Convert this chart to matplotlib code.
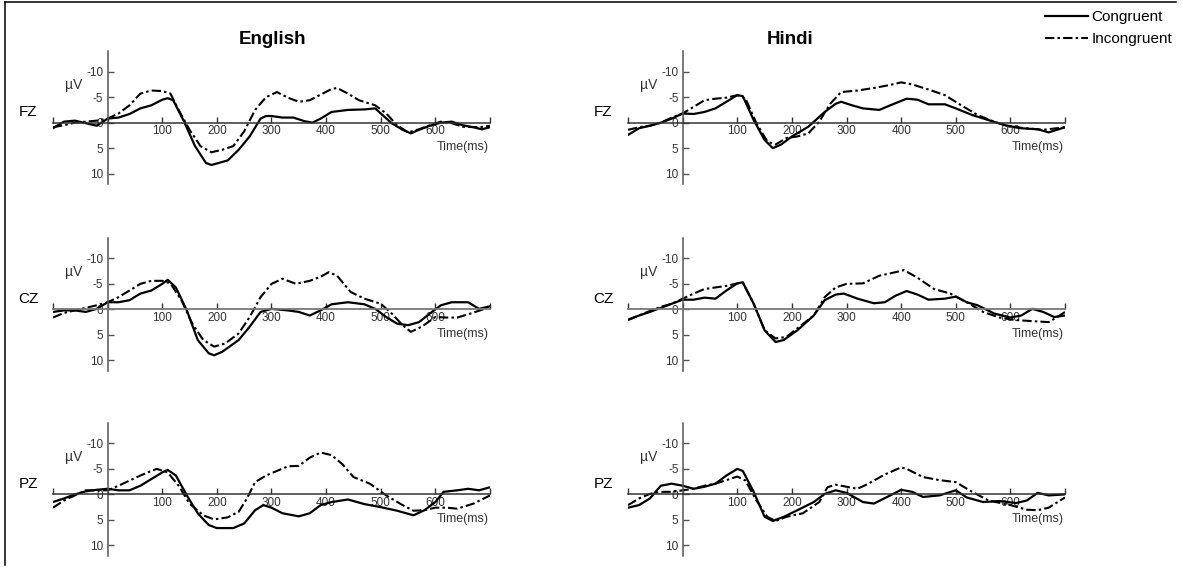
import matplotlib
matplotlib.use("Agg")
import matplotlib.pyplot as plt
from matplotlib.lines import Line2D

plt.rcParams['font.family'] = ['Liberation Sans', 'DejaVu Sans']

# ---- data (µV; negative is plotted upward) ----
eng_fz_t_con = [-100, -80, -60, -40, -20, 0, 20, 40, 60, 80, 100, 110, 120, 140, 160, 180, 190, 200, 220, 240,
                260, 280, 290, 300, 320, 340, 360, 375, 390, 410, 440, 470, 490, 500, 520, 540, 555, 570, 590,
                610, 630, 650, 670, 685, 700]
eng_fz_con = [1.1, -0.2, -0.4, 0.1, 0.6, -0.8, -1.0, -1.7, -2.8, -3.4, -4.5, -4.8, -4.4, -0.2, 4.6, 7.9, 8.3,
              8.0, 7.4, 5.3, 2.7, -0.8, -1.3, -1.3, -1.0, -1.0, -0.3, 0.0, -0.8, -2.1, -2.5, -2.6, -2.8, -1.8,
              0.1, 1.4, 2.1, 1.4, 0.6, 0.0, -0.2, 0.5, 0.9, 1.3, 0.9]
eng_fz_t_inc = [-100, -80, -60, -40, -20, 0, 20, 40, 60, 80, 100, 115, 130, 150, 170, 190, 210, 230, 250, 270,
                290, 310, 330, 350, 370, 390, 410, 420, 440, 460, 490, 510, 530, 550, 570, 590, 610, 630, 650,
                680, 700]
eng_fz_inc = [0.9, 0.5, 0.0, -0.2, -0.4, -0.8, -1.8, -3.4, -5.7, -6.3, -6.2, -5.7, -2.5, 1.4, 4.6, 5.8, 5.3,
              4.6, 1.7, -2.5, -5.0, -6.0, -4.9, -4.1, -4.4, -5.5, -6.6, -6.8, -5.7, -4.4, -3.4, -1.8, 0.5, 1.9,
              1.3, 0.5, -0.2, 0.1, 0.8, 0.9, 0.6]

hin_fz_t_con = [-100, -80, -60, -40, -20, 0, 20, 40, 60, 80, 100, 110, 130, 150, 165, 180, 200, 230, 260, 280,
                290, 310, 330, 360, 380, 410, 430, 450, 480, 500, 530, 560, 590, 620, 650, 670, 700]
hin_fz_con = [2.4, 1.1, 0.6, 0.0, -0.8, -1.8, -1.7, -2.1, -2.8, -4.1, -5.4, -5.2, -0.5, 3.4, 5.0, 4.3, 2.7,
              0.8, -2.1, -3.7, -4.1, -3.4, -2.8, -2.5, -3.4, -4.7, -4.5, -3.6, -3.6, -2.8, -1.5, -0.5, 0.5,
              1.1, 1.3, 1.9, 0.9]
hin_fz_t_inc = [-100, -80, -60, -40, -20, 0, 20, 40, 60, 80, 100, 115, 135, 155, 170, 190, 210, 230, 250, 270,
                290, 320, 350, 380, 400, 420, 450, 480, 510, 540, 570, 600, 630, 660, 700]
hin_fz_inc = [1.4, 0.9, 0.6, 0.0, -1.0, -1.8, -3.1, -4.4, -4.7, -4.9, -5.4, -4.7, 0.1, 3.7, 4.3, 3.0, 2.7,
              2.1, -0.2, -3.7, -6.0, -6.3, -6.8, -7.4, -7.9, -7.5, -6.5, -5.4, -3.4, -1.5, -0.2, 0.8, 1.1,
              1.4, 0.9]

eng_cz_t_con = [-100, -80, -60, -40, -20, 0, 20, 40, 60, 80, 100, 110, 125, 145, 165, 185, 195, 210, 240, 260,
                280, 300, 330, 350, 370, 390, 410, 440, 470, 490, 510, 530, 550, 570, 590, 610, 630, 660, 680, 700]
eng_cz_con = [0.5, 0.2, 0.2, 0.5, -0.1, -1.4, -1.4, -1.8, -3.1, -3.7, -5.0, -5.8, -4.3, 0.2, 6.0, 8.6, 9.0,
              8.3, 6.0, 3.4, 0.5, -0.1, 0.2, 0.5, 1.2, 0.2, -1.0, -1.4, -1.0, -0.1, 1.5, 2.8, 3.1, 2.5, 0.8,
              -0.8, -1.4, -1.4, -0.1, -0.6]
eng_cz_t_inc = [-100, -80, -60, -40, -20, 0, 20, 40, 60, 80, 100, 115, 135, 155, 175, 195, 215, 240, 260, 280,
                300, 320, 345, 370, 390, 405, 420, 445, 470, 500, 520, 540, 555, 575, 600, 620, 640, 665, 690, 700]
eng_cz_inc = [1.6, 0.7, 0.2, -0.3, -0.8, -1.4, -2.4, -3.7, -5.0, -5.6, -5.6, -5.1, -1.8, 2.8, 6.0, 7.3, 6.7,
              4.7, 1.5, -2.4, -5.0, -6.0, -5.0, -5.6, -6.4, -7.3, -6.6, -3.4, -2.1, -1.1, 0.8, 3.1, 4.4, 3.4,
              1.5, 1.6, 1.6, 0.8, -0.1, -0.8]

hin_cz_t_con = [-100, -80, -60, -40, -20, 0, 20, 40, 60, 80, 100, 110, 130, 150, 170, 185, 210, 240, 260, 280,
                295, 320, 350, 370, 390, 410, 430, 450, 480, 500, 520, 540, 570, 600, 620, 640, 660, 680, 700]
hin_cz_con = [2.0, 1.2, 0.5, -0.3, -1.1, -1.9, -1.9, -2.3, -2.1, -3.7, -5.1, -5.3, -1.1, 4.1, 6.4, 6.0, 4.1,
              1.2, -1.8, -2.9, -3.1, -2.1, -1.2, -1.4, -2.7, -3.6, -2.9, -1.9, -2.1, -2.5, -1.4, -0.8, 0.8,
              1.6, 1.2, -0.1, 0.5, 1.5, 1.2]
hin_cz_t_inc = [-100, -80, -60, -40, -20, 0, 20, 40, 60, 80, 100, 110, 130, 150, 170, 190, 210, 240, 260, 280,
                300, 330, 360, 390, 405, 430, 460, 490, 520, 550, 580, 610, 640, 670, 690, 700]
hin_cz_inc = [2.1, 1.2, 0.3, -0.5, -1.1, -2.1, -3.1, -4.0, -4.3, -4.6, -5.1, -5.3, -1.1, 4.1, 5.7, 5.4, 3.7,
              1.2, -2.4, -4.3, -5.0, -5.1, -6.6, -7.3, -7.7, -6.2, -4.0, -3.1, -1.4, 0.5, 1.6, 2.1, 2.3, 2.5,
              1.2, 0.5]

eng_pz_t_con = [-100, -80, -60, -40, -20, 0, 20, 40, 60, 80, 100, 110, 125, 145, 165, 185, 200, 230, 250, 270,
                285, 300, 320, 350, 370, 390, 410, 440, 470, 500, 530, 560, 580, 600, 615, 640, 660, 680, 700]
eng_pz_con = [1.5, 0.8, 0.0, -0.6, -0.9, -1.1, -0.8, -0.8, -1.7, -3.0, -4.3, -4.8, -3.7, 0.2, 3.7, 6.0, 6.6,
              6.6, 5.7, 3.1, 2.1, 2.6, 3.7, 4.3, 3.7, 2.1, 1.5, 1.0, 1.9, 2.5, 3.2, 4.1, 3.1, 1.5, -0.5, -0.8,
              -1.1, -0.8, -1.4]
eng_pz_t_inc = [-100, -80, -60, -40, -20, 0, 20, 40, 60, 80, 90, 110, 130, 150, 175, 195, 220, 240, 255, 270,
                290, 310, 330, 350, 370, 390, 410, 430, 450, 480, 510, 540, 560, 580, 600, 620, 640, 670, 700]
eng_pz_inc = [2.6, 1.2, 0.2, -0.8, -0.8, -0.8, -1.7, -2.7, -3.7, -4.6, -5.0, -4.3, -1.7, 1.8, 4.1, 4.9, 4.5,
              3.4, 0.8, -2.4, -3.7, -4.6, -5.5, -5.6, -7.2, -8.2, -7.7, -5.9, -3.4, -2.1, 0.2, 2.1, 3.2, 3.1,
              2.6, 2.6, 2.8, 1.8, 0.2]

hin_pz_t_con = [-100, -80, -60, -40, -20, 0, 20, 40, 60, 80, 100, 110, 130, 150, 165, 185, 210, 240, 260, 280,
                300, 330, 350, 380, 400, 420, 440, 470, 500, 520, 550, 580, 610, 630, 650, 670, 700]
hin_pz_con = [2.6, 2.1, 0.8, -1.7, -2.1, -1.7, -1.1, -1.5, -2.1, -3.7, -5.0, -4.6, -0.5, 4.4, 5.2, 4.4, 3.1,
              1.5, -0.1, -0.8, -0.3, 1.5, 1.8, 0.2, -0.9, -0.5, 0.5, 0.2, -0.8, 0.6, 1.5, 1.3, 1.7, 1.2, -0.3,
              0.2, 0.0]
hin_pz_t_inc = [-100, -80, -60, -40, -20, 0, 20, 40, 60, 80, 100, 115, 135, 155, 170, 190, 220, 250, 265, 280,
                300, 320, 340, 370, 400, 410, 440, 470, 500, 530, 560, 600, 630, 650, 670, 700]
hin_pz_inc = [2.1, 0.8, -0.1, -0.5, -0.5, -0.8, -1.1, -1.7, -2.1, -2.8, -3.5, -2.7, 1.2, 4.4, 5.2, 4.4, 3.7,
              1.5, -1.4, -1.9, -1.5, -1.1, -2.1, -3.9, -5.3, -5.0, -3.4, -2.8, -2.4, -0.5, 1.2, 2.1, 3.0, 3.1,
              2.6, 0.6]

languages = ['English', 'Hindi']
electrodes = ['FZ', 'CZ', 'PZ']
series = {
    ('English', 'FZ'): (eng_fz_t_con, eng_fz_con, eng_fz_t_inc, eng_fz_inc),
    ('Hindi', 'FZ'): (hin_fz_t_con, hin_fz_con, hin_fz_t_inc, hin_fz_inc),
    ('English', 'CZ'): (eng_cz_t_con, eng_cz_con, eng_cz_t_inc, eng_cz_inc),
    ('Hindi', 'CZ'): (hin_cz_t_con, hin_cz_con, hin_cz_t_inc, hin_cz_inc),
    ('English', 'PZ'): (eng_pz_t_con, eng_pz_con, eng_pz_t_inc, eng_pz_inc),
    ('Hindi', 'PZ'): (hin_pz_t_con, hin_pz_con, hin_pz_t_inc, hin_pz_inc),
}
x_ticks = [-100, 0, 100, 200, 300, 400, 500, 600, 700]
x_ticklabels = ['', '', '100', '200', '300', '400', '500', '600', '']
y_ticks = [-10, -5, 0, 5, 10]

# ---- layout ----
W, H = 1183, 567
fig = plt.figure(figsize=(W / 100, H / 100), dpi=100)

col_left = [0.0448, 0.5309]
row_bottom = [0.6757, 0.3464, 0.0201]
ax_w, ax_h = 0.3694, 0.2339
dash = (0, (4.5, 1.5, 1.2, 1.5))
axis_col = '#333333'

con_line = inc_line = None
for r, el in enumerate(electrodes):
    for c, lang in enumerate(languages):
        ax = fig.add_axes([col_left[c], row_bottom[r], ax_w, ax_h])
        tc, yc, ti, yi = series[(lang, el)]
        con_line, = ax.plot(tc, yc, color='black', lw=1.6, label='Congruent',
                            solid_joinstyle='round')
        inc_line, = ax.plot(ti, yi, color='black', lw=1.5, linestyle=dash, label='Incongruent')

        ax.set_xlim(-100, 700)
        ax.set_ylim(12, -14)
        ax.patch.set_visible(False)
        for s in ['top', 'right']:
            ax.spines[s].set_visible(False)
        ax.spines['left'].set_position(('data', 0))
        ax.spines['bottom'].set_position(('data', 0))
        ax.spines['left'].set_color('#555555')
        zero_col = '#777777' if el == 'CZ' else axis_col
        ax.spines['bottom'].set_color(zero_col)
        ax.spines['bottom'].set_linewidth(1.3 if el == 'CZ' else 1.1)
        ax.spines['left'].set_linewidth(1.1)

        ax.set_xticks(x_ticks)
        ax.set_xticklabels(x_ticklabels)
        ax.set_yticks(y_ticks)
        ax.set_yticklabels([str(v) for v in y_ticks])
        ax.tick_params(axis='x', direction='in', length=4, width=1, colors=axis_col,
                       labelsize=8.5, pad=2, labelcolor='#333333')
        ax.tick_params(axis='y', direction='in', length=4, width=1, colors='#555555',
                       labelsize=8.5, pad=3, labelcolor='#333333')

        ax.text(-62, -7.4, 'µV', ha='center', va='center', fontsize=10, color='#333333')
        ax.text(-145, -2.1, el, ha='center', va='center', fontsize=11, color='black', clip_on=False)
        ax.text(650, 4.8, 'Time(ms)', ha='center', va='center', fontsize=9, color='#333333')

# titles
fig.text(0.230, 0.931, 'English', ha='center', va='center', fontsize=13.5, fontweight='bold')
fig.text(0.668, 0.931, 'Hindi', ha='center', va='center', fontsize=13.5, fontweight='bold')

# legend
fig.legend(handles=[con_line, inc_line], loc='upper left', bbox_to_anchor=(0.876, 0.998),
           frameon=False, fontsize=11, handlelength=2.8, handletextpad=0.2, labelspacing=0.5,
           borderaxespad=0.2)

# frame lines (left and top)
fig.add_artist(Line2D([0.0045, 0.0045], [0.0035, 0.9965], color='black', lw=1.1))
fig.add_artist(Line2D([0.0045, 0.994], [0.9965, 0.9965], color='black', lw=1.1))

fig.savefig('out.png', dpi=100)
